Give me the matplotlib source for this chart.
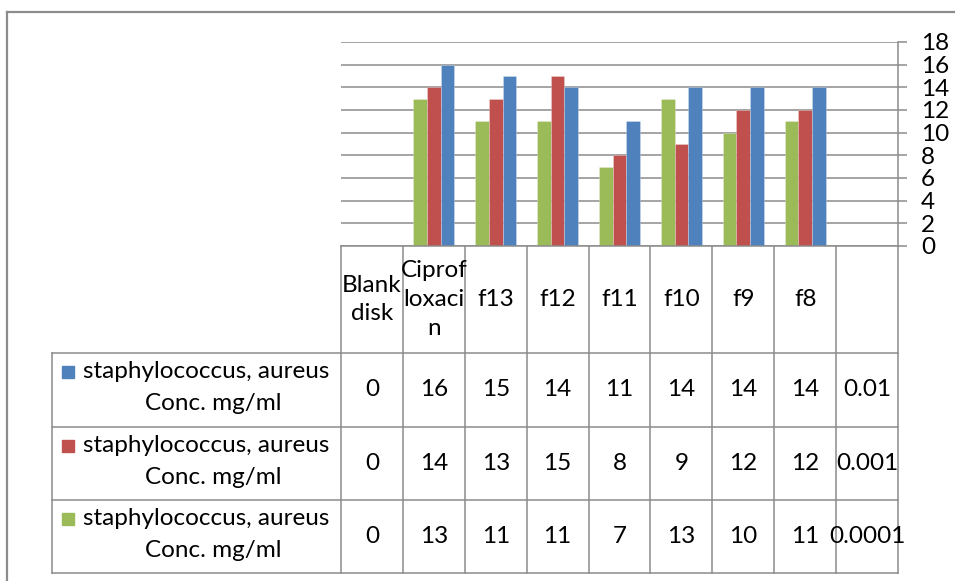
import matplotlib
matplotlib.use("Agg")
import matplotlib.pyplot as plt
from matplotlib.lines import Line2D
from matplotlib.patches import Rectangle

plt.rcParams['font.family'] = ['Lato', 'DejaVu Sans']

# ---- data -------------------------------------------------------------
categories = ["Blank\ndisk", "Ciprof\nloxaci\nn", "f13", "f12", "f11",
              "f10", "f9", "f8", ""]
conc_01 = [0, 16, 15, 14, 11, 14, 14, 14, 0.01]
conc_001 = [0, 14, 13, 15, 8, 9, 12, 12, 0.001]
conc_0001 = [0, 13, 11, 11, 7, 13, 10, 11, 0.0001]
series_label = "staphylococcus, aureus\nConc. mg/ml"
y_ticks = list(range(0, 19, 2))

# table rows top to bottom, bars left to right
rows = [(conc_01, "#4F81BD"), (conc_001, "#C0504D"), (conc_0001, "#9BBB59")]
bar_order = [(conc_0001, "#9BBB59"), (conc_001, "#C0504D"), (conc_01, "#4F81BD")]

# ---- layout (pixels, origin top-left) ----------------------------------
W, H = 955, 581
plot_l, plot_r = 341, 898
plot_t, plot_b = 42, 246
head_b = 353
row_edges = [353, 427, 500, 573]
legend_l = 52
grid_col = "#8C8C8C"
font_pt = 17.5


def fx(x):
    return x / W


def fy(y):
    return 1 - y / H


fig = plt.figure(figsize=(W / 100, H / 100), dpi=100)

# outer chart frame
fig.add_artist(Line2D([fx(7), fx(7)], [fy(12), fy(H + 5)], color=grid_col, lw=1.6))
fig.add_artist(Line2D([fx(7), fx(W + 5)], [fy(12), fy(12)], color=grid_col, lw=1.6))

# ---- bar chart ------------------------------------------------------------
ax = fig.add_axes([fx(plot_l), fy(plot_b), fx(plot_r) - fx(plot_l),
                   fy(plot_t) - fy(plot_b)])
n = len(categories)
bw = 1 / 4.5
for j, (vals, col) in enumerate(bar_order):
    xs = [i + (j - 1) * bw for i in range(n)]
    ax.bar(xs, vals, width=bw, color=col, edgecolor=(1, 1, 1, 0.35),
           linewidth=0.5, zorder=3)

ax.set_xlim(-0.5, n - 0.5)
ax.set_ylim(0, 18)
ax.set_yticks(y_ticks)
ax.set_xticks([])
ax.yaxis.tick_right()
ax.tick_params(axis='y', direction='out', length=6.5, width=1.1,
               color=grid_col, pad=10, labelsize=font_pt)
for lab in ax.get_yticklabels():
    lab.set_horizontalalignment('left')
ax.grid(axis='y', color=grid_col, linewidth=1.1, zorder=0)
for s in ('left', 'top', 'bottom'):
    ax.spines[s].set_visible(False)
ax.spines['right'].set_color(grid_col)
ax.spines['right'].set_linewidth(1.1)
ax.patch.set_alpha(0)

# ---- data table -----------------------------------------------------------
col_w = (plot_r - plot_l) / n
col_edges = [plot_l + k * col_w for k in range(n + 1)]


def hline(x0, x1, y):
    fig.add_artist(Line2D([fx(x0), fx(x1)], [fy(y), fy(y)], color=grid_col, lw=1.1))


def vline(x, y0, y1):
    fig.add_artist(Line2D([fx(x), fx(x)], [fy(y0), fy(y1)], color=grid_col, lw=1.1))


hline(plot_l, plot_r, plot_b)
for y in row_edges:
    hline(legend_l, plot_r, y)
for x in col_edges:
    vline(x, plot_b, row_edges[-1])
vline(legend_l, row_edges[0], row_edges[-1])

# category header
for i, cat in enumerate(categories):
    cx = (col_edges[i] + col_edges[i + 1]) / 2
    fig.text(fx(cx), fy((plot_b + head_b) / 2), cat, ha='center', va='center',
             fontsize=font_pt, linespacing=1.45)

# series rows
for r, (vals, col) in enumerate(rows):
    y0, y1 = row_edges[r], row_edges[r + 1]
    cy = (y0 + y1) / 2
    line1, line2 = series_label.split("\n")
    fig.add_artist(Rectangle((fx(62), fy(cy - 12)), fx(12), fy(0) - fy(12),
                             color=col, transform=fig.transFigure))
    fig.text(fx(83), fy(cy - 18), line1, ha='left', va='center', fontsize=font_pt)
    fig.text(fx(213), fy(cy + 14), line2, ha='center', va='center', fontsize=font_pt)
    for i, v in enumerate(vals):
        cx = (col_edges[i] + col_edges[i + 1]) / 2
        fig.text(fx(cx), fy(cy), f"{v:g}", ha='center', va='center', fontsize=font_pt)

fig.savefig("out.png", dpi=100)
